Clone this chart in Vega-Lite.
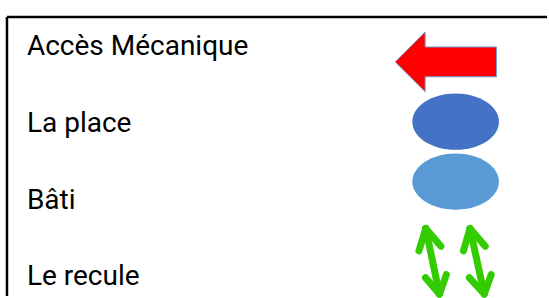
{
  "$schema": "https://vega.github.io/schema/vega-lite/v6.json",
  "width": 549,
  "height": 298,
  "padding": 0,
  "autosize": {"type": "fit", "contains": "padding"},
  "background": "white",
  "config": {"view": {"stroke": null}},
  "datasets": {
    "labels": [
      {"label": "Accès Mécanique", "x": 27, "y": 55},
      {"label": "La place", "x": 27, "y": 133},
      {"label": "Bâti", "x": 27, "y": 210},
      {"label": "Le recule", "x": 27, "y": 287}
    ],
    "frame": [
      {"x": 7, "y": 17, "x2": 549, "y2": 17},
      {"x": 7, "y": 17, "x2": 7, "y2": 298}
    ],
    "arrow": [
      {"o": 1, "x": 396.7, "y": 62.3},
      {"o": 2, "x": 426.7, "y": 32.3},
      {"o": 3, "x": 426.7, "y": 47.3},
      {"o": 4, "x": 498.3, "y": 47.3},
      {"o": 5, "x": 498.3, "y": 77.3},
      {"o": 6, "x": 426.7, "y": 77.3},
      {"o": 7, "x": 426.7, "y": 92.3}
    ],
    "ellipses": [
      {"name": "La place", "x": 457.3, "y": 122.5},
      {"name": "Bâti", "x": 457.3, "y": 182.8}
    ],
    "greens": [
      {"x": 427.3, "y": 230, "x2": 441, "y2": 296},
      {"x": 427.3, "y": 230, "x2": 420.5, "y2": 252.5},
      {"x": 427.3, "y": 230, "x2": 442.5, "y2": 248},
      {"x": 441, "y": 296, "x2": 427, "y2": 279.5},
      {"x": 441, "y": 296, "x2": 448, "y2": 276.5},
      {"x": 471.7, "y": 230, "x2": 486, "y2": 296},
      {"x": 471.7, "y": 230, "x2": 465.2, "y2": 252.5},
      {"x": 471.7, "y": 230, "x2": 487, "y2": 248},
      {"x": 486, "y": 296, "x2": 471, "y2": 279.5},
      {"x": 486, "y": 296, "x2": 493, "y2": 276.5}
    ]
  },
  "layer": [
    {
      "data": {"name": "frame"},
      "mark": {"type": "rule", "color": "black", "strokeWidth": 2.5},
      "encoding": {
        "x": {"field": "x", "type": "quantitative", "scale": {"domain": [0, 549], "nice": false, "zero": false}, "axis": null},
        "y": {"field": "y", "type": "quantitative", "scale": {"domain": [0, 298], "nice": false, "zero": false, "reverse": true}, "axis": null},
        "x2": {"field": "x2"},
        "y2": {"field": "y2"}
      }
    },
    {
      "data": {"name": "labels"},
      "mark": {"type": "text", "align": "left", "baseline": "alphabetic", "font": "Roboto", "fontSize": 28, "color": "black"},
      "encoding": {
        "x": {"field": "x", "type": "quantitative"},
        "y": {"field": "y", "type": "quantitative"},
        "text": {"field": "label"}
      }
    },
    {
      "data": {"name": "arrow"},
      "mark": {"type": "line", "fill": "#FF0000", "stroke": "#6FA0D8", "strokeWidth": 1, "interpolate": "linear-closed"},
      "encoding": {
        "x": {"field": "x", "type": "quantitative"},
        "y": {"field": "y", "type": "quantitative"},
        "order": {"field": "o"}
      }
    },
    {
      "data": {"name": "ellipses"},
      "mark": {"type": "point", "filled": true, "opacity": 1, "shape": "M-1,0A1,0.651,0,1,1,1,0A1,0.651,0,1,1,-1,0Z", "size": 7500},
      "encoding": {
        "x": {"field": "x", "type": "quantitative"},
        "y": {"field": "y", "type": "quantitative"},
        "color": {"field": "name", "type": "nominal", "scale": {"domain": ["La place", "Bâti"], "range": ["#4472C4", "#5B9BD5"]}, "legend": null}
      }
    },
    {
      "data": {"name": "greens"},
      "mark": {"type": "rule", "color": "#33CC00", "strokeWidth": 7, "strokeCap": "round"},
      "encoding": {
        "x": {"field": "x", "type": "quantitative"},
        "y": {"field": "y", "type": "quantitative"},
        "x2": {"field": "x2"},
        "y2": {"field": "y2"}
      }
    }
  ]
}
